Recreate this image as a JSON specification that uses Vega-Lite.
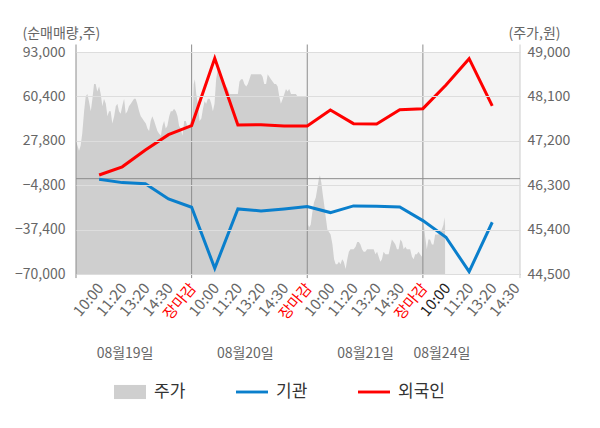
{
  "$schema": "https://vega.github.io/schema/vega-lite/v6.json",
  "width": 444,
  "height": 222,
  "autosize": "none",
  "padding": {"left": 76, "top": 52, "right": 80, "bottom": 154},
  "config": {
    "view": {"fill": "#f4f4f4", "stroke": null},
    "font": "Noto Sans CJK KR",
    "axis": {"labelOverlap": false, "labelFlush": false, "labelBound": false}
  },
  "datasets": {
    "price": [
      {"t": 0.0, "price": 47200}, {"t": 0.13, "price": 47000}, {"t": 0.2, "price": 47100}, {"t": 0.27, "price": 47350},
      {"t": 0.35, "price": 47800}, {"t": 0.42, "price": 48100}, {"t": 0.49, "price": 48150}, {"t": 0.56, "price": 48000},
      {"t": 0.64, "price": 47800}, {"t": 0.71, "price": 48050}, {"t": 0.78, "price": 48350}, {"t": 0.85, "price": 48350},
      {"t": 0.92, "price": 48200}, {"t": 1.0, "price": 48300}, {"t": 1.07, "price": 48150}, {"t": 1.14, "price": 47900},
      {"t": 1.21, "price": 48050}, {"t": 1.29, "price": 47950}, {"t": 1.36, "price": 47700}, {"t": 1.43, "price": 47800},
      {"t": 1.5, "price": 47800}, {"t": 1.57, "price": 47550}, {"t": 1.65, "price": 47700}, {"t": 1.72, "price": 47900},
      {"t": 1.79, "price": 47950}, {"t": 1.86, "price": 47800}, {"t": 1.93, "price": 47750}, {"t": 2.0, "price": 47900},
      {"t": 2.08, "price": 48050}, {"t": 2.15, "price": 47750}, {"t": 2.22, "price": 47800}, {"t": 2.29, "price": 47900},
      {"t": 2.37, "price": 47950}, {"t": 2.44, "price": 48000}, {"t": 2.51, "price": 48050}, {"t": 2.58, "price": 48050},
      {"t": 2.65, "price": 47950}, {"t": 2.73, "price": 47800}, {"t": 2.8, "price": 47700}, {"t": 2.87, "price": 47650},
      {"t": 2.94, "price": 47600}, {"t": 3.02, "price": 47550}, {"t": 3.09, "price": 47450}, {"t": 3.16, "price": 47400},
      {"t": 3.23, "price": 47600}, {"t": 3.3, "price": 47700}, {"t": 3.38, "price": 47600}, {"t": 3.45, "price": 47500},
      {"t": 3.52, "price": 47400}, {"t": 3.59, "price": 47350}, {"t": 3.67, "price": 47300}, {"t": 3.74, "price": 47500},
      {"t": 3.81, "price": 47600}, {"t": 3.88, "price": 47450}, {"t": 3.95, "price": 47500}, {"t": 4.03, "price": 47700},
      {"t": 4.1, "price": 47800}, {"t": 4.17, "price": 47800}, {"t": 4.24, "price": 47850}, {"t": 4.32, "price": 47800},
      {"t": 4.39, "price": 47700}, {"t": 4.46, "price": 47500}, {"t": 4.53, "price": 47450}, {"t": 4.6, "price": 47300},
      {"t": 4.68, "price": 47600}, {"t": 4.75, "price": 47600}, {"t": 4.81, "price": 47500}, {"t": 4.89, "price": 47500},
      {"t": 4.96, "price": 47600},
      {"t": 5.03, "price": 47500}, {"t": 5.09, "price": 48350}, {"t": 5.14, "price": 48450}, {"t": 5.2, "price": 48150},
      {"t": 5.27, "price": 47950}, {"t": 5.34, "price": 47600}, {"t": 5.42, "price": 47650}, {"t": 5.49, "price": 47850},
      {"t": 5.56, "price": 48000}, {"t": 5.63, "price": 47950}, {"t": 5.7, "price": 48050}, {"t": 5.78, "price": 48050},
      {"t": 5.85, "price": 47950}, {"t": 5.92, "price": 47800}, {"t": 5.99, "price": 47950}, {"t": 6.06, "price": 48450},
      {"t": 6.13, "price": 48650}, {"t": 6.21, "price": 48650}, {"t": 6.28, "price": 48550}, {"t": 6.35, "price": 48350},
      {"t": 6.42, "price": 48350}, {"t": 6.5, "price": 48300}, {"t": 6.57, "price": 48250}, {"t": 6.64, "price": 48150},
      {"t": 6.71, "price": 48150}, {"t": 6.78, "price": 48150}, {"t": 6.85, "price": 48150}, {"t": 6.93, "price": 48150},
      {"t": 7.0, "price": 48150}, {"t": 7.07, "price": 48400}, {"t": 7.14, "price": 48450}, {"t": 7.21, "price": 48450},
      {"t": 7.28, "price": 48350}, {"t": 7.36, "price": 48300}, {"t": 7.43, "price": 48350}, {"t": 7.5, "price": 48450},
      {"t": 7.57, "price": 48550}, {"t": 7.64, "price": 48550}, {"t": 7.71, "price": 48550}, {"t": 7.79, "price": 48550},
      {"t": 7.86, "price": 48550}, {"t": 7.93, "price": 48550}, {"t": 8.0, "price": 48550}, {"t": 8.07, "price": 48500},
      {"t": 8.14, "price": 48350}, {"t": 8.22, "price": 48350}, {"t": 8.29, "price": 48550}, {"t": 8.36, "price": 48500},
      {"t": 8.43, "price": 48450}, {"t": 8.5, "price": 48400}, {"t": 8.58, "price": 48350}, {"t": 8.65, "price": 48350},
      {"t": 8.72, "price": 48300}, {"t": 8.79, "price": 48100}, {"t": 8.86, "price": 47950}, {"t": 8.94, "price": 48050},
      {"t": 9.01, "price": 48150}, {"t": 9.08, "price": 48250}, {"t": 9.15, "price": 48200}, {"t": 9.22, "price": 48250},
      {"t": 9.3, "price": 48150}, {"t": 9.37, "price": 48150}, {"t": 9.44, "price": 48150}, {"t": 9.51, "price": 48150},
      {"t": 9.58, "price": 48100}, {"t": 9.8, "price": 48100}, {"t": 9.99, "price": 48100},
      {"t": 10.02, "price": 46800}, {"t": 10.04, "price": 45500}, {"t": 10.08, "price": 45450}, {"t": 10.15, "price": 45500},
      {"t": 10.22, "price": 45750}, {"t": 10.29, "price": 45950}, {"t": 10.37, "price": 46050}, {"t": 10.44, "price": 46250},
      {"t": 10.51, "price": 46450}, {"t": 10.55, "price": 46500}, {"t": 10.61, "price": 46350}, {"t": 10.66, "price": 46150},
      {"t": 10.72, "price": 45950}, {"t": 10.8, "price": 45650}, {"t": 10.87, "price": 45400}, {"t": 10.94, "price": 45350},
      {"t": 11.01, "price": 45300}, {"t": 11.09, "price": 45100}, {"t": 11.16, "price": 44800}, {"t": 11.23, "price": 44700},
      {"t": 11.3, "price": 44700}, {"t": 11.37, "price": 44750}, {"t": 11.44, "price": 44700}, {"t": 11.51, "price": 44800},
      {"t": 11.58, "price": 44750}, {"t": 11.66, "price": 44600}, {"t": 11.73, "price": 44800}, {"t": 11.8, "price": 44950},
      {"t": 11.87, "price": 45000}, {"t": 11.94, "price": 45000}, {"t": 12.01, "price": 45000}, {"t": 12.09, "price": 45050},
      {"t": 12.16, "price": 45150}, {"t": 12.23, "price": 45150}, {"t": 12.3, "price": 45100}, {"t": 12.37, "price": 45000},
      {"t": 12.44, "price": 44950}, {"t": 12.51, "price": 44950}, {"t": 12.59, "price": 45000}, {"t": 12.66, "price": 45000},
      {"t": 12.73, "price": 45000}, {"t": 12.8, "price": 45000}, {"t": 12.87, "price": 45000}, {"t": 12.95, "price": 44900},
      {"t": 13.02, "price": 44950}, {"t": 13.09, "price": 44850}, {"t": 13.16, "price": 44750}, {"t": 13.23, "price": 44800},
      {"t": 13.3, "price": 44950}, {"t": 13.38, "price": 44900}, {"t": 13.45, "price": 44900}, {"t": 13.52, "price": 44900},
      {"t": 13.59, "price": 45050}, {"t": 13.66, "price": 45200}, {"t": 13.74, "price": 45150}, {"t": 13.81, "price": 45100},
      {"t": 13.88, "price": 45000}, {"t": 13.95, "price": 45000}, {"t": 14.03, "price": 45200}, {"t": 14.1, "price": 45150},
      {"t": 14.17, "price": 45000}, {"t": 14.24, "price": 45050}, {"t": 14.31, "price": 45000}, {"t": 14.38, "price": 45000},
      {"t": 14.45, "price": 45000}, {"t": 14.53, "price": 44850}, {"t": 14.6, "price": 44800}, {"t": 14.67, "price": 44900},
      {"t": 14.74, "price": 44900}, {"t": 14.81, "price": 44950}, {"t": 14.88, "price": 44900}, {"t": 14.96, "price": 44850},
      {"t": 15.03, "price": 45550}, {"t": 15.1, "price": 45250}, {"t": 15.17, "price": 45000}, {"t": 15.24, "price": 45200},
      {"t": 15.31, "price": 45200}, {"t": 15.39, "price": 45100}, {"t": 15.46, "price": 45100}, {"t": 15.53, "price": 45300},
      {"t": 15.6, "price": 45300}, {"t": 15.67, "price": 45300}, {"t": 15.75, "price": 45350}, {"t": 15.82, "price": 45400},
      {"t": 15.89, "price": 45500}, {"t": 15.93, "price": 45650}, {"t": 15.96, "price": 45500}
    ],
    "flow": [
      {"t": 1, "series": "외국인", "value": 2700}, {"t": 2, "series": "외국인", "value": 8700},
      {"t": 3, "series": "외국인", "value": 21000}, {"t": 4, "series": "외국인", "value": 32300},
      {"t": 5, "series": "외국인", "value": 39000}, {"t": 6, "series": "외국인", "value": 88400},
      {"t": 7, "series": "외국인", "value": 39400}, {"t": 8, "series": "외국인", "value": 39600},
      {"t": 9, "series": "외국인", "value": 38700}, {"t": 10, "series": "외국인", "value": 38600},
      {"t": 11, "series": "외국인", "value": 50400}, {"t": 12, "series": "외국인", "value": 40400},
      {"t": 13, "series": "외국인", "value": 40200}, {"t": 14, "series": "외국인", "value": 50600},
      {"t": 15, "series": "외국인", "value": 51400}, {"t": 16, "series": "외국인", "value": 68800},
      {"t": 17, "series": "외국인", "value": 88100}, {"t": 18, "series": "외국인", "value": 53400},
      {"t": 1, "series": "기관", "value": -400}, {"t": 2, "series": "기관", "value": -2900},
      {"t": 3, "series": "기관", "value": -3700}, {"t": 4, "series": "기관", "value": -14900},
      {"t": 5, "series": "기관", "value": -21000}, {"t": 6, "series": "기관", "value": -65800},
      {"t": 7, "series": "기관", "value": -22200}, {"t": 8, "series": "기관", "value": -23700},
      {"t": 9, "series": "기관", "value": -22200}, {"t": 10, "series": "기관", "value": -20500},
      {"t": 11, "series": "기관", "value": -24900}, {"t": 12, "series": "기관", "value": -20000},
      {"t": 13, "series": "기관", "value": -20200}, {"t": 14, "series": "기관", "value": -20800},
      {"t": 15, "series": "기관", "value": -30800}, {"t": 16, "series": "기관", "value": -43000},
      {"t": 17, "series": "기관", "value": -68300}, {"t": 18, "series": "기관", "value": -32000}
    ],
    "days": [
      {"day": "08월19일", "t": 0}, {"day": "08월20일", "t": 5},
      {"day": "08월21일", "t": 10}, {"day": "08월24일", "t": 15}
    ]
  },
  "layer": [
    {
      "data": {"name": "price"},
      "mark": {"type": "area", "color": "#cfcfcf"},
      "encoding": {
        "x": {
          "field": "t", "type": "quantitative",
          "scale": {"domain": [0, 19.2], "nice": false, "zero": false},
          "axis": {
            "orient": "bottom", "title": null, "values": [2.1, 7.3, 12.5, 15.8],
            "labelExpr": "datum.value < 5 ? '08월19일' : datum.value < 10 ? '08월20일' : datum.value < 15 ? '08월21일' : '08월24일'",
            "labelAngle": 0, "labelAlign": "center", "labelBaseline": "middle",
            "labelPadding": 79, "ticks": false, "domain": false, "grid": false,
            "labelFontSize": 14, "labelColor": "#666666", "labelOverlap": false, "labelFlush": false
          }
        },
        "y": {
          "field": "price", "type": "quantitative",
          "scale": {"domain": [44500, 49000], "nice": false, "zero": false},
          "axis": {
            "orient": "right", "values": [44500, 45400, 46300, 47200, 48100, 49000], "format": ",d",
            "ticks": false, "domain": false, "grid": false, "labelPadding": 7,
            "labelFontSize": 14, "labelColor": "#666666",
            "title": "(주가,원)", "titleAngle": 0, "titleAlign": "left", "titleBaseline": "middle",
            "titleX": -12, "titleY": -19, "titleFontSize": 14, "titleFontWeight": "normal", "titleColor": "#666666"
          }
        },
        "y2": {"datum": 44500},
        "color": {
          "datum": "주가", "type": "nominal",
          "scale": {"domain": ["주가", "기관", "외국인"], "range": ["#cfcfcf", "#0a7fcc", "#ff0000"]},
          "legend": {
            "orient": "none", "legendX": 38, "legendY": 324, "direction": "horizontal", "title": null,
            "padding": 0, "symbolType": "M-1,-0.44H1V0.44H-1Z", "symbolSize": 1024,
            "labelFontSize": 17, "labelColor": "#333333", "labelOffset": 8, "columnPadding": 50,
            "encode": {
              "symbols": {
                "update": {
                  "shape": {"signal": "datum.value === '주가' ? 'M-1,-0.44H1V0.44H-1Z' : 'M-1,-0.09H1V0.09H-1Z'"},
                  "fill": {"scale": "color", "field": "value"},
                  "stroke": {"value": "transparent"},
                  "strokeWidth": {"value": 0},
                  "opacity": {"value": 1}
                }
              }
            }
          }
        }
      }
    },
    {
      "layer": [
        {
          "data": {"name": "days"},
          "mark": {"type": "rule", "color": "#8c8c8c", "strokeWidth": 1},
          "encoding": {
            "x": {"field": "t", "type": "quantitative"},
            "y": {"datum": 98500, "type": "quantitative"},
            "y2": {"datum": -73000}
          }
        },
        {
          "data": {"values": [{}]},
          "mark": {"type": "rule", "color": "#cccccc", "strokeWidth": 1},
          "encoding": {
            "x": {"datum": 19.2, "type": "quantitative"},
            "y": {"datum": 98500, "type": "quantitative"},
            "y2": {"datum": -73000}
          }
        },
        {
          "data": {"values": [{}]},
          "mark": {"type": "rule", "color": "#8c8c8c", "strokeWidth": 1},
          "encoding": {
            "y": {"datum": 0, "type": "quantitative"}
          }
        },
        {
          "data": {"name": "flow"},
          "mark": {"type": "line", "strokeWidth": 3},
          "encoding": {
            "x": {
              "field": "t", "type": "quantitative",
              "scale": {"domain": [0, 19.2], "nice": false, "zero": false},
              "axis": {
                "orient": "bottom", "title": null, "tickCount": 40,
                "values": [1, 2, 3, 4, 5, 6, 7, 8, 9, 10, 11, 12, 13, 14, 15, 16, 17, 18, 19],
                "labelExpr": "datum.value % 5 == 1 ? '10:00' : datum.value % 5 == 2 ? '11:20' : datum.value % 5 == 3 ? '13:20' : datum.value % 5 == 4 ? '14:30' : '장마감'",
                "labelColor": {"condition": [{"test": "datum.value % 5 == 0", "value": "#ff0000"}, {"test": "datum.value == 16", "value": "#222222"}], "value": "#666666"},
                "labelAngle": -50, "labelAlign": "right", "labelBaseline": "middle",
                "labelPadding": 11, "labelOffset": 1, "labelFontSize": 15, "labelOverlap": false, "labelFlush": false,
                "ticks": false, "domain": true, "domainColor": "#9a9a9a", "grid": false
              }
            },
            "y": {
              "field": "value", "type": "quantitative",
              "scale": {"domain": [-70000, 93000], "nice": false, "zero": false},
              "axis": {
                "orient": "left", "values": [-70000, -37400, -4800, 27800, 60400, 93000], "format": ",d",
                "ticks": false, "domain": false, "grid": true, "gridColor": "#dddddd", "zindex": 1,
                "labelPadding": 11, "labelFontSize": 14, "labelColor": "#666666",
                "title": "(순매매량,주)", "titleAngle": 0, "titleAlign": "left", "titleBaseline": "middle",
                "titleX": -54, "titleY": -19, "titleFontSize": 14, "titleFontWeight": "normal", "titleColor": "#666666"
              }
            },
            "color": {
              "field": "series", "type": "nominal",
              "scale": {"domain": ["주가", "기관", "외국인"], "range": ["#cfcfcf", "#0a7fcc", "#ff0000"]},
              "legend": {
                "orient": "none", "legendX": 38, "legendY": 324, "direction": "horizontal", "title": null,
                "padding": 0, "symbolType": "M-1,-0.44H1V0.44H-1Z", "symbolSize": 1024,
                "labelFontSize": 17, "labelColor": "#333333", "labelOffset": 8, "columnPadding": 50
              }
            }
          }
        }
      ]
    }
  ],
  "resolve": {"scale": {"y": "independent"}, "axis": {"x": "independent"}}
}
